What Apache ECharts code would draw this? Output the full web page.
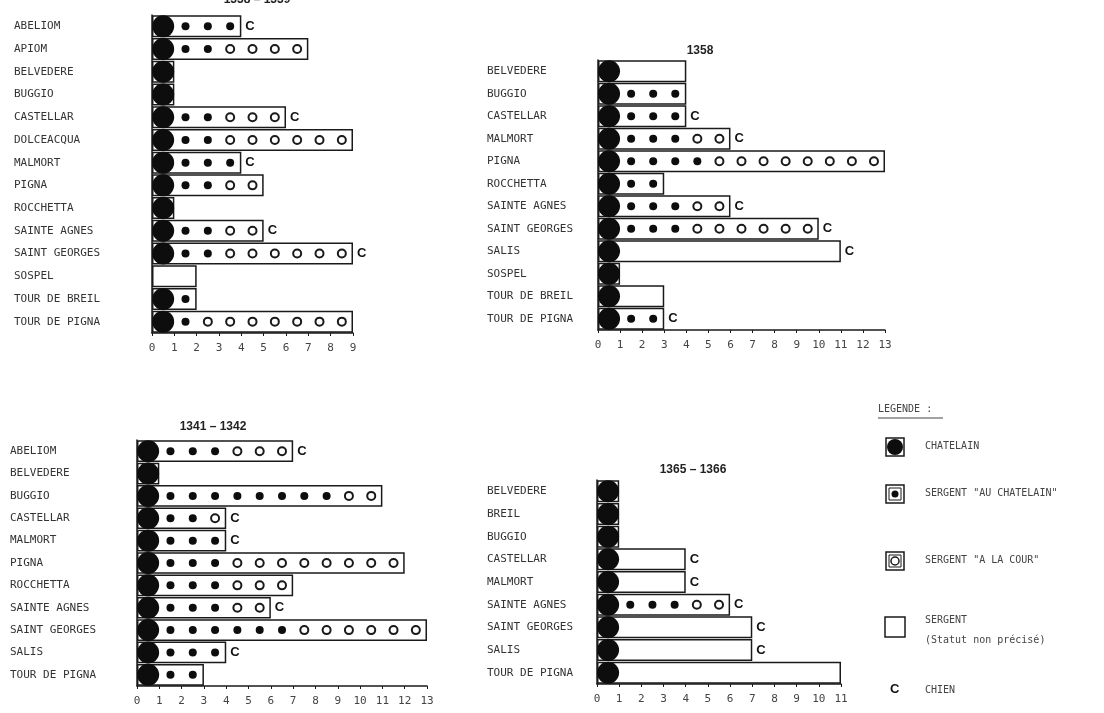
<!DOCTYPE html>
<html>
<head>
<meta charset="utf-8">
<script src="https://cdn.jsdelivr.net/npm/echarts@6/dist/echarts.min.js"></script>
<style>
  html, body { margin: 0; padding: 0; background: #fff; }
  #main { width: 1104px; height: 713px; }
</style>
</head>
<body>
<div id="main"></div>
<script>
// ---- data ----
// for each place : chatelain present (1/0), sergents "au chatelain", sergents "a la cour",
// total length of the box (all sergents incl. unspecified), chien (1/0)

// panel 1 (title cut at top)
var p1Names = ['ABELIOM', 'APIOM', 'BELVEDERE', 'BUGGIO', 'CASTELLAR', 'DOLCEACQUA', 'MALMORT',
  'PIGNA', 'ROCCHETTA', 'SAINTE AGNES', 'SAINT GEORGES', 'SOSPEL', 'TOUR DE BREIL', 'TOUR DE PIGNA'];
var p1Chatelain = [1, 1, 1, 1, 1, 1, 1, 1, 1, 1, 1, 0, 1, 1];
var p1AuChatelain = [3, 2, 0, 0, 2, 2, 3, 2, 0, 2, 2, 0, 1, 1];
var p1ALaCour = [0, 4, 0, 0, 3, 6, 0, 2, 0, 2, 6, 0, 0, 7];
var p1Total = [4, 7, 1, 1, 6, 9, 4, 5, 1, 5, 9, 2, 2, 9];
var p1Chien = [1, 0, 0, 0, 1, 0, 1, 0, 0, 1, 1, 0, 0, 0];

// panel 2 : 1358
var p2Names = ['BELVEDERE', 'BUGGIO', 'CASTELLAR', 'MALMORT', 'PIGNA', 'ROCCHETTA',
  'SAINTE AGNES', 'SAINT GEORGES', 'SALIS', 'SOSPEL', 'TOUR DE BREIL', 'TOUR DE PIGNA'];
var p2Chatelain = [1, 1, 1, 1, 1, 1, 1, 1, 1, 1, 1, 1];
var p2AuChatelain = [0, 3, 3, 3, 4, 2, 3, 3, 0, 0, 0, 2];
var p2ALaCour = [0, 0, 0, 2, 8, 0, 2, 6, 0, 0, 0, 0];
var p2Total = [4, 4, 4, 6, 13, 3, 6, 10, 11, 1, 3, 3];
var p2Chien = [0, 0, 1, 1, 0, 0, 1, 1, 1, 0, 0, 1];

// panel 3 : 1341 - 1342
var p3Names = ['ABELIOM', 'BELVEDERE', 'BUGGIO', 'CASTELLAR', 'MALMORT', 'PIGNA', 'ROCCHETTA',
  'SAINTE AGNES', 'SAINT GEORGES', 'SALIS', 'TOUR DE PIGNA'];
var p3Chatelain = [1, 1, 1, 1, 1, 1, 1, 1, 1, 1, 1];
var p3AuChatelain = [3, 0, 8, 2, 3, 3, 3, 3, 6, 3, 2];
var p3ALaCour = [3, 0, 2, 1, 0, 8, 3, 2, 6, 0, 0];
var p3Total = [7, 1, 11, 4, 4, 12, 7, 6, 13, 4, 3];
var p3Chien = [1, 0, 0, 1, 1, 0, 0, 1, 0, 1, 0];

// panel 4 : 1365 - 1366
var p4Names = ['BELVEDERE', 'BREIL', 'BUGGIO', 'CASTELLAR', 'MALMORT', 'SAINTE AGNES',
  'SAINT GEORGES', 'SALIS', 'TOUR DE PIGNA'];
var p4Chatelain = [1, 1, 1, 1, 1, 1, 1, 1, 1];
var p4AuChatelain = [0, 0, 0, 0, 0, 3, 0, 0, 0];
var p4ALaCour = [0, 0, 0, 0, 0, 2, 0, 0, 0];
var p4Total = [1, 1, 1, 4, 4, 6, 7, 7, 11];
var p4Chien = [0, 0, 0, 1, 1, 1, 1, 1, 0];

var panelTitles = ['1338 \u2013 1339', '1358', '1341 \u2013 1342', '1365 \u2013 1366'];
var axisMax = [9, 13, 13, 11];

var INK = '#1a1a1a';
var LABEL_FONT = '"DejaVu Sans Mono", monospace';

var panels = [
  { names: p1Names, chat: p1Chatelain, au: p1AuChatelain, cour: p1ALaCour, total: p1Total, chien: p1Chien },
  { names: p2Names, chat: p2Chatelain, au: p2AuChatelain, cour: p2ALaCour, total: p2Total, chien: p2Chien },
  { names: p3Names, chat: p3Chatelain, au: p3AuChatelain, cour: p3ALaCour, total: p3Total, chien: p3Chien },
  { names: p4Names, chat: p4Chatelain, au: p4AuChatelain, cour: p4ALaCour, total: p4Total, chien: p4Chien }
];

// layout of the four blocks
var grids = [
  { left: 152, top: 15, width: 201, height: 318 },
  { left: 598, top: 60, width: 287, height: 270 },
  { left: 137, top: 440, width: 290, height: 246 },
  { left: 597, top: 480, width: 244, height: 204 }
];
var labelX = [14, 487, 10, 487];
var titlePos = [[252, -11], [695, 40], [208, 416], [688, 459]];

var xAxes = [], yAxes = [], series = [], titles = [];

panels.forEach(function (p, i) {
  xAxes.push({
    gridIndex: i, type: 'value', min: 0, max: axisMax[i], interval: 1,
    axisLine: { show: true, lineStyle: { color: INK, width: 1.5 } },
    axisTick: { show: true, length: 3, lineStyle: { color: INK } },
    splitLine: { show: false },
    axisLabel: { color: '#444', fontSize: 11, fontFamily: LABEL_FONT, margin: 10 }
  });
  yAxes.push({
    gridIndex: i, type: 'category', data: p.names, inverse: true,
    axisLine: { show: true, lineStyle: { color: INK, width: 1.5 } },
    axisTick: { show: false },
    axisLabel: {
      align: 'left', margin: grids[i].left - labelX[i],
      color: '#333', fontSize: 11, fontFamily: LABEL_FONT
    }
  });
  titles.push({
    text: panelTitles[i], left: titlePos[i][0], top: titlePos[i][1], textAlign: 'center',
    textStyle: { fontSize: 12, fontWeight: 'bold', color: '#222', fontFamily: 'Liberation Sans' }
  });

  var big = [], small = [], open = [];
  p.names.forEach(function (n, r) {
    if (p.chat[r]) big.push([0.5, r]);
    for (var k = 0; k < p.au[r]; k++) small.push([1.5 + k, r]);
    for (var k2 = 0; k2 < p.cour[r]; k2++) open.push([1.5 + p.au[r] + k2, r]);
  });

  series.push({
    type: 'bar', xAxisIndex: i, yAxisIndex: i, data: p.total,
    barCategoryGap: '3%',
    itemStyle: { color: 'rgba(0,0,0,0)', borderColor: INK, borderWidth: 1.5 },
    label: {
      show: true, position: 'right', distance: 4,
      formatter: function (d) { return p.chien[d.dataIndex] ? 'C' : ''; },
      fontSize: 13, fontWeight: 'bold', color: '#111', fontFamily: 'Liberation Sans'
    },
    silent: true, z: 2
  });
  series.push({
    type: 'scatter', xAxisIndex: i, yAxisIndex: i, data: big,
    symbol: 'circle', symbolSize: 22, itemStyle: { color: '#0d0d0d', opacity: 1 }, z: 4
  });
  series.push({
    type: 'scatter', xAxisIndex: i, yAxisIndex: i, data: small,
    symbol: 'circle', symbolSize: 8, itemStyle: { color: '#0d0d0d', opacity: 1 }, z: 4
  });
  series.push({
    type: 'scatter', xAxisIndex: i, yAxisIndex: i, data: open,
    symbol: 'circle', symbolSize: 8,
    itemStyle: { color: '#fff', borderColor: '#1a1a1a', borderWidth: 2, opacity: 1 }, z: 4
  });
});

// legend drawn as a small key box on the right
var legFont = '10px "DejaVu Sans Mono", monospace';
var legend = [
  { type: 'text', left: 878, top: 404, style: { text: 'LEGENDE :', font: legFont, fill: '#444' } },
  { type: 'line', shape: { x1: 878, y1: 418, x2: 943, y2: 418 }, style: { stroke: '#444', lineWidth: 1 } },

  { type: 'rect', shape: { x: 886, y: 438, width: 18, height: 18 }, style: { fill: '#fff', stroke: INK, lineWidth: 1.5 } },
  { type: 'circle', shape: { cx: 895, cy: 447, r: 8 }, style: { fill: '#0d0d0d' } },
  { type: 'text', left: 925, top: 441, style: { text: 'CHATELAIN', font: legFont, fill: '#444' } },

  { type: 'rect', shape: { x: 886, y: 485, width: 18, height: 18 }, style: { fill: '#fff', stroke: INK, lineWidth: 1.5 } },
  { type: 'rect', shape: { x: 889, y: 488, width: 12, height: 12 }, style: { fill: 'none', stroke: INK, lineWidth: 1 } },
  { type: 'circle', shape: { cx: 895, cy: 494, r: 3.5 }, style: { fill: '#0d0d0d' } },
  { type: 'text', left: 925, top: 488, style: { text: 'SERGENT "AU CHATELAIN"', font: legFont, fill: '#444' } },

  { type: 'rect', shape: { x: 886, y: 552, width: 18, height: 18 }, style: { fill: '#fff', stroke: INK, lineWidth: 1.5 } },
  { type: 'rect', shape: { x: 889, y: 555, width: 12, height: 12 }, style: { fill: 'none', stroke: INK, lineWidth: 1 } },
  { type: 'circle', shape: { cx: 895, cy: 561, r: 4 }, style: { fill: '#fff', stroke: INK, lineWidth: 1.5 } },
  { type: 'text', left: 925, top: 555, style: { text: 'SERGENT "A LA COUR"', font: legFont, fill: '#444' } },

  { type: 'rect', shape: { x: 885, y: 617, width: 20, height: 20 }, style: { fill: '#fff', stroke: INK, lineWidth: 1.5 } },
  { type: 'text', left: 925, top: 615, style: { text: 'SERGENT', font: legFont, fill: '#444' } },
  { type: 'text', left: 925, top: 635, style: { text: '(Statut non pr\u00e9cis\u00e9)', font: legFont, fill: '#444' } },

  { type: 'text', left: 890, top: 683, style: { text: 'C', font: 'bold 13px "Liberation Sans"', fill: '#111' } },
  { type: 'text', left: 925, top: 685, style: { text: 'CHIEN', font: legFont, fill: '#444' } }
];

var chart = echarts.init(document.getElementById('main'));
chart.setOption({
  backgroundColor: '#ffffff',
  animation: false,
  title: titles,
  grid: grids,
  xAxis: xAxes,
  yAxis: yAxes,
  series: series,
  graphic: legend
});
</script>
</body>
</html>
